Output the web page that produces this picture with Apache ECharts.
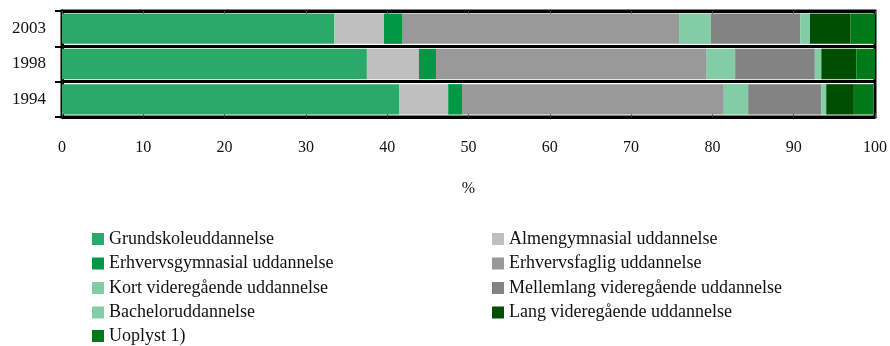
<!DOCTYPE html>
<html><head><meta charset="utf-8">
<script src="https://cdn.jsdelivr.net/npm/echarts@6/dist/echarts.min.js"></script>
<style>html,body{margin:0;padding:0;background:#fff}#c{width:890px;height:346px}</style>
</head><body><div id="c"></div>
<script>
const years = ['1994', '1998', '2003'];
const seriesNames = ['Grundskoleuddannelse','Almengymnasial uddannelse','Erhvervsgymnasial uddannelse','Erhvervsfaglig uddannelse','Kort videregående uddannelse','Mellemlang videregående uddannelse','Bacheloruddannelse','Lang videregående uddannelse','Uoplyst 1)'];
const grund = [41.5, 37.5, 33.5];
const almen = [6.0, 6.4, 6.1];
const erhvGym = [1.7, 2.1, 2.3];
const erhvFag = [32.2, 33.3, 34.0];
const kort = [3.0, 3.5, 3.9];
const mellem = [9.0, 9.8, 11.0];
const bachelor = [0.6, 0.8, 1.2];
const lang = [3.4, 4.3, 5.0];
const uoplyst = [2.4, 2.3, 3.0];
const xTicks = [0,10,20,30,40,50,60,70,80,90,100];
const colors = ['#2aa968','#bfbfbf','#009845','#999999','#82cda5','#838383','#82cda5','#004f00','#007a16'];
const values = [grund, almen, erhvGym, erhvFag, kort, mellem, bachelor, lang, uoplyst];

const font = 'Liberation Serif';
const chart = echarts.init(document.getElementById('c'));
const legendBase = {
  orient: 'vertical', top: 230, padding: 0, itemWidth: 12, itemHeight: 12, itemGap: 6.5,
  icon: 'rect', textStyle: {fontFamily: font, fontSize: 18, color: '#111'}, selectedMode: false
};
chart.setOption({
  animation: false,
  grid: {left: 62, right: 14, top: 11, bottom: 229, show: true, borderColor: '#000', borderWidth: 3},
  legend: [
    Object.assign({}, legendBase, {left: 92, data: [seriesNames[0], seriesNames[2], seriesNames[4], seriesNames[6]]}),
    Object.assign({}, legendBase, {left: 92, top: 327, data: [seriesNames[8]]}),
    Object.assign({}, legendBase, {left: 492, data: [seriesNames[1], seriesNames[3], seriesNames[5], seriesNames[7]]})
  ],
  xAxis: [{
    type: 'value', min: xTicks[0], max: xTicks[xTicks.length-1], interval: 10,
    axisLine: {show: false},
    axisTick: {show: true, inside: true, length: 4, lineStyle: {color: '#444', width: 1}},
    splitLine: {show: false},
    axisLabel: {fontFamily: font, fontSize: 16, color: '#111', margin: 23},
    name: '%', nameLocation: 'middle', nameGap: 64,
    nameTextStyle: {fontFamily: font, fontSize: 16, color: '#111'}
  }, {
    type: 'value', position: 'top', min: xTicks[0], max: xTicks[xTicks.length-1], interval: 10,
    axisLine: {show: false},
    axisTick: {show: true, inside: true, length: 4, lineStyle: {color: '#444', width: 1}},
    splitLine: {show: false}, axisLabel: {show: false}
  }],
  yAxis: {
    type: 'category', data: years,
    axisLine: {show: true, lineStyle: {color: '#000', width: 3}},
    axisTick: {show: true, length: 7, lineStyle: {color: '#000', width: 2}},
    splitLine: {show: true, lineStyle: {color: '#000', width: 3}},
    axisLabel: {fontFamily: font, fontSize: 17, color: '#111', margin: 16}
  },
  series: seriesNames.map((n, i) => ({
    name: n, type: 'bar', stack: 'all', data: values[i], barWidth: '86%',
    itemStyle: {color: colors[i]}
  }))
});
</script></body></html>
